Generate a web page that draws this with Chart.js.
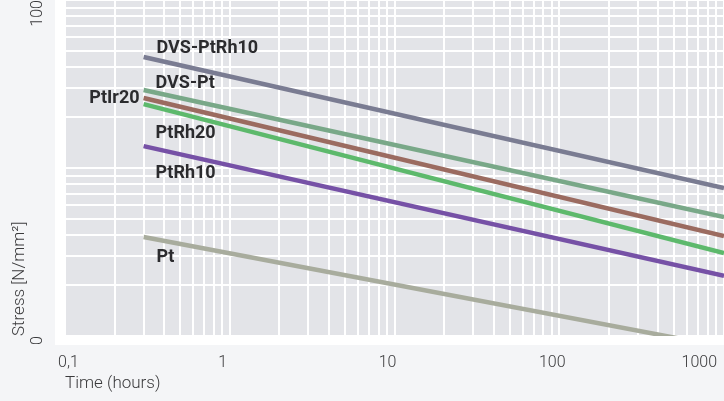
<!DOCTYPE html>
<html>
<head>
<meta charset="utf-8">
<title>Stress vs time</title>
<script src="https://cdn.jsdelivr.net/npm/chart.js@4.4.1/dist/chart.umd.min.js"></script>
<style>
  html, body { margin: 0; padding: 0; background: #f4f5f7; }
  #wrap { position: relative; width: 724px; height: 401px; }
</style>
</head>
<body>
<div id="wrap"><canvas id="myChart" width="724" height="401"></canvas></div>
<script>
// time in hours (log axis), stress in N/mm² (log axis)
const timePoints = [0.3, 1000];
const dvsPtRh10 = [45.8, 7.6];
const dvsPt = [29.1, 5.1];
const ptIr20 = [26.1, 3.94];
const ptRh20 = [24.0, 3.12];
const ptRh10 = [13.5, 2.28];
const pt = [3.88, 0.86];

const seriesNames = ['DVS-PtRh10', 'DVS-Pt', 'PtIr20', 'PtRh20', 'PtRh10', 'Pt'];
const seriesValues = [dvsPtRh10, dvsPt, ptIr20, ptRh20, ptRh10, pt];
const seriesColors = ['#7a7c92', '#79a888', '#9b6b60', '#5db96c', '#7651a6', '#a8ac9d'];

// axis ticks
const xDecades = [0.1, 1, 10, 100, 1000];
const xTickLabels = ['0,1', '1', '10', '100', '1000'];
const yDecades = [1, 10, 100];
const yTickLabels = ['0', '', '100'];

// where each line name sits relative to the line's first point
const labelPlace = [
  {dx: 13, dy: -4, align: 'left'},
  {dx: 12, dy: -2, align: 'left'},
  {dx: -4, dy: 5, align: 'right'},
  {dx: 12, dy: 34, align: 'left'},
  {dx: 12, dy: 32, align: 'left'},
  {dx: 13, dy: 25, align: 'left'}
];

function logTicks(decades) {
  var out = [];
  for (var i = 0; i < decades.length; i++) {
    out.push({value: decades[i]});
    if (i < decades.length - 1) {
      for (var k = 2; k <= 9; k++) out.push({value: +(decades[i] * k).toPrecision(3)});
    }
  }
  return out;
}

function tickLabel(value, decades, labels) {
  var idx = decades.indexOf(value);
  return idx >= 0 ? labels[idx] : '';
}

const datasets = seriesNames.map(function (name, i) {
  return {
    label: name,
    data: timePoints.map(function (t, j) { return {x: t, y: seriesValues[i][j]}; }),
    borderColor: seriesColors[i],
    backgroundColor: seriesColors[i],
    borderWidth: 4.5,
    pointRadius: 0,
    tension: 0,
    clip: 0,
    fill: false
  };
});

const framePlugin = {
  id: 'frame',
  beforeDraw(chart) {
    const ctx = chart.ctx;
    const a = chart.chartArea;
    ctx.save();
    ctx.fillStyle = '#f4f5f7';
    ctx.fillRect(0, 0, chart.width, chart.height);
    ctx.fillStyle = '#ffffff';
    ctx.fillRect(a.left - 10, 0, a.right - a.left + 10, a.bottom + 9);
    ctx.fillStyle = '#e3e4e8';
    ctx.fillRect(a.left, a.top, a.right - a.left, a.bottom - a.top);
    ctx.restore();
  }
};

const lineLabelPlugin = {
  id: 'lineLabels',
  afterDatasetsDraw(chart) {
    const ctx = chart.ctx;
    ctx.save();
    ctx.font = 'bold 18px Roboto';
    ctx.fillStyle = '#2b2b2e';
    ctx.textBaseline = 'alphabetic';
    chart.data.datasets.forEach(function (ds, i) {
      const p = chart.getDatasetMeta(i).data[0];
      const place = labelPlace[i];
      ctx.textAlign = place.align;
      ctx.fillText(ds.label, p.x + place.dx, p.y + place.dy);
    });
    ctx.restore();
  }
};

const tickFont = {family: 'Roboto', size: 16, weight: 300};
const titleFont = {family: 'Roboto', size: 17, weight: 300};

const config = {
  type: 'line',
  data: {datasets: datasets},
  options: {
    responsive: false,
    animation: false,
    layout: {padding: 0},
    plugins: {
      legend: {display: false},
      tooltip: {enabled: false}
    },
    scales: {
      x: {
        type: 'logarithmic',
        min: 0.1,
        max: 1000,
        afterBuildTicks(scale) { scale.ticks = logTicks(xDecades); },
        afterFit(scale) { scale.height = 65; scale.paddingLeft = 0; scale.paddingRight = 0; },
        grid: {color: '#ffffff', lineWidth: 2, drawTicks: false},
        border: {display: false},
        ticks: {
          autoSkip: false,
          maxRotation: 0,
          align: 'inner',
          labelOffset: -7,
          padding: 17,
          color: '#3a3a3c',
          font: tickFont,
          callback: function (v) { return tickLabel(v, xDecades, xTickLabels); }
        },
        title: {
          display: true,
          text: 'Time (hours)',
          align: 'start',
          color: '#3a3a3c',
          font: titleFont,
          padding: {top: 0, bottom: 7}
        }
      },
      y: {
        type: 'logarithmic',
        min: 1,
        max: 100,
        afterBuildTicks(scale) { scale.ticks = logTicks(yDecades); },
        afterFit(scale) { scale.width = 65; scale.paddingTop = 0; scale.paddingBottom = 0; },
        grid: {color: '#ffffff', lineWidth: 2, drawTicks: false},
        border: {display: false},
        ticks: {
          autoSkip: false,
          minRotation: 90,
          maxRotation: 90,
          padding: 27,
          color: '#3a3a3c',
          font: tickFont,
          callback: function (v) { return tickLabel(v, yDecades, yTickLabels); }
        },
        title: {
          display: true,
          text: 'Stress [N/mm²]',
          align: 'start',
          color: '#3a3a3c',
          font: titleFont,
          padding: {top: 10, bottom: 0}
        }
      }
    }
  },
  plugins: [framePlugin, lineLabelPlugin]
};

var myChart = new Chart(document.getElementById('myChart'), config);
</script>
</body>
</html>
